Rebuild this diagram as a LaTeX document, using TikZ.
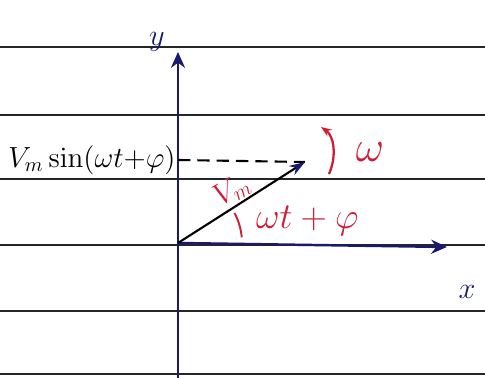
\documentclass[tikz,border=0pt]{standalone}
\usepackage{amsmath}
\usetikzlibrary{arrows.meta}
\definecolor{inkblue}{RGB}{25,25,110}
\definecolor{inkred}{RGB}{205,30,55}
\tikzset{
  ruled/.style={line width=1.1pt,black!85},
  axis/.style={line width=1.4pt,inkblue,-{Stealth[length=9pt,width=8pt]}},
  phasor/.style={line width=1.2pt,black,-{Stealth[length=9pt,width=6pt,inkblue]}},
  redtext/.style={inkred,font=\LARGE}
}
\begin{document}
\begin{tikzpicture}[x=0.02cm,y=0.02cm]
\useasboundingbox (0,0) rectangle (485,378);
% ruled lines:
\foreach \h in {331,263,199,133,67,4}
  \draw[ruled] (0,\h) -- (485,\h);
% axes:
\coordinate (O) at (178,135);
\coordinate (Ytop) at (178,326);
\coordinate (Xend) at (447,131);
\draw[axis] (178,0) -- (Ytop);
\draw[axis] (O) -- (Xend);
\node[inkblue,font=\LARGE] (ylab) at (157,336) {$y$};
\node[inkblue,font=\LARGE] (xlab) at (467,86) {$x$};
% phasor:
\coordinate (P) at (305,216);
\coordinate (Yp) at (178,218);
\draw[line width=1.2pt,dash pattern=on 7pt off 4pt] (Yp) -- (P);
\draw[phasor] (O) -- (P);
\node[left,font=\Large,inner sep=1pt,scale=1.15] (proj) at (Yp) {$V_m\sin(\omega t{+}\varphi)$};
\node[redtext,rotate=30] (vm) at (232,188) {$V_m$};
% angle and rotation:
\draw[inkred,line width=1.1pt] ([shift={(5:64)}]O) arc (5:28:64);
\node[redtext,font=\huge,right] (ang) at (250,157) {$\omega t+\varphi$};
\coordinate (w1) at (329,204);
\coordinate (w2) at (321,251);
\draw[inkred,line width=1.3pt,-{Stealth[length=6pt]}] (w1) .. controls (337,222) and (334,242) .. (w2);
\node[redtext,font=\huge,scale=1.2] (omega) at (370,226) {$\omega$};
\end{tikzpicture}
\end{document}
